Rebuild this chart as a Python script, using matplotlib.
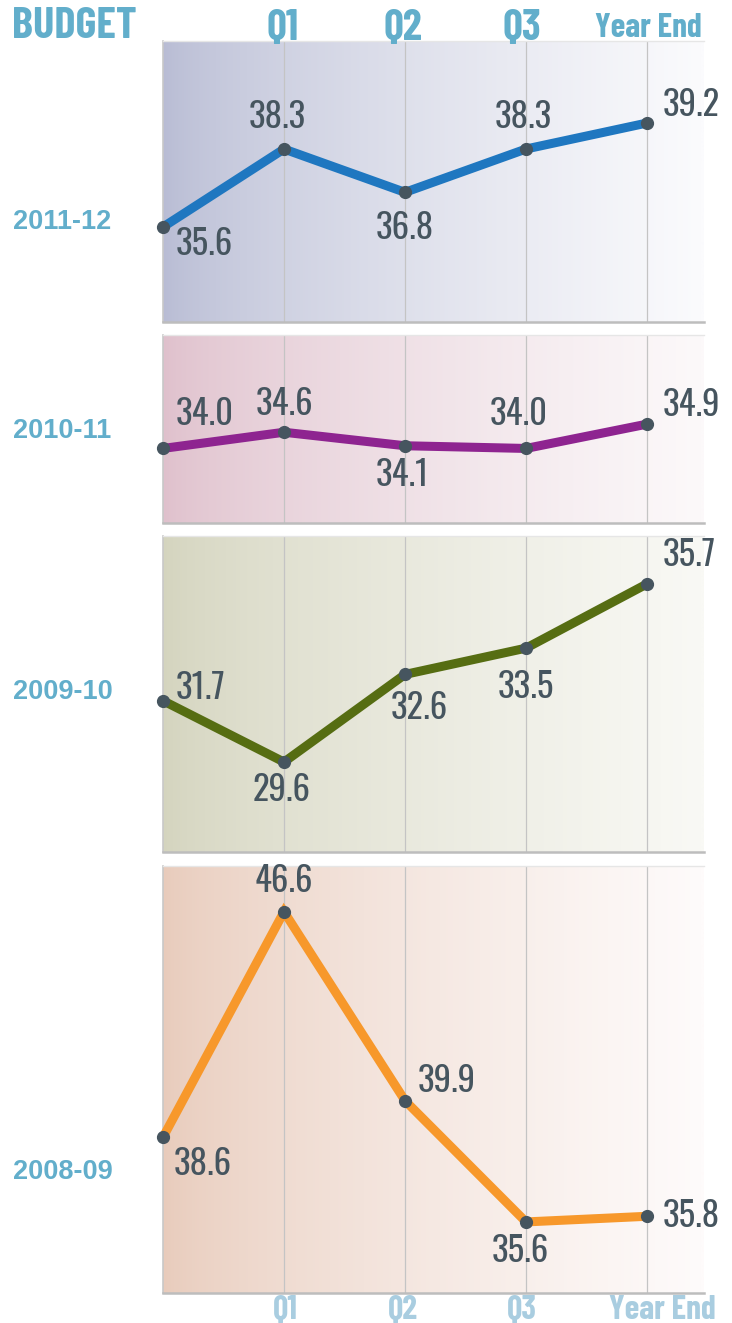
import numpy as np
import matplotlib
matplotlib.use("Agg")
import matplotlib.pyplot as plt
from matplotlib.colors import LinearSegmentedColormap

# data
periods = ["BUDGET", "Q1", "Q2", "Q3", "Year End"]
years = ["2011-12", "2010-11", "2009-10", "2008-09"]
values_2011 = [35.6, 38.3, 36.8, 38.3, 39.2]
values_2010 = [34.0, 34.6, 34.1, 34.0, 34.9]
values_2009 = [31.7, 29.6, 32.6, 33.5, 35.7]
values_2008 = [38.6, 46.6, 39.9, 35.6, 35.8]
series = [values_2011, values_2010, values_2009, values_2008]

# styling
line_colors = ["#1f77c0", "#8e2490", "#566d12", "#f7982b"]
bg_left = ["#b8bcd4", "#dfc0cc", "#d4d4be", "#e8cbbb"]
bg_right = ["#fbfbfd", "#fcf9fa", "#f9f9f5", "#fefbfb"]
# axes boxes in figure pixels (top, bottom) and row label heights
boxes = [(41, 322), (335, 523), (536, 852), (866, 1293)]
row_label_px = [222, 431, 692, 1172]
ylims = [(32.31, 42.04), (31.24, 38.2), (26.52, 37.34), (33.08, 48.22)]
# label offsets in points (dx, dy, ha)
offsets = [
    [(9, -12, "left"), (-5, 23, "center"), (0, -26, "center"), (-2, 23, "center"), (11, 13, "left")],
    [(9, 25, "left"), (0, 20, "center"), (-2, -21, "center"), (-5, 25, "center"), (11, 14, "left")],
    [(9, 9, "left"), (-2, -20, "center"), (10, -24, "center"), (0, -28, "center"), (11, 21, "left")],
    [(8, -19, "left"), (0, 22, "center"), (9, 14, "left"), (-4, -21, "center"), (11, 0, "left")],
]

W, H = 732, 1323
num_font = ["Oswald", "DejaVu Sans"]
head_font = ["Barlow Condensed", "Roboto Condensed", "DejaVu Sans"]
label_color = "#46555f"
head_color = "#62aecb"
foot_color = "#a9cde0"

fig = plt.figure(figsize=(W / 100, H / 100), dpi=100)
x = np.arange(len(periods))
left_px, right_px = 163, 704

for i, vals in enumerate(series):
    top, bot = boxes[i]
    ax = fig.add_axes([left_px / W, 1 - bot / H, (right_px - left_px) / W, (bot - top) / H])
    ax.set_xlim(0, (right_px - left_px) / 121)
    ax.set_ylim(*ylims[i])
    cmap = LinearSegmentedColormap.from_list("bg%d" % i, [bg_left[i], bg_right[i]])
    grad = (np.linspace(0, 1, 256) ** 0.7).reshape(1, -1)
    ax.imshow(grad, cmap=cmap, extent=[0, 1, 0, 1], transform=ax.transAxes,
              aspect="auto", zorder=0)
    for xv in x[1:]:
        ax.axvline(xv, color="#c4c4c4", lw=0.9, zorder=1)
    ax.plot(x, vals, color=line_colors[i], lw=6.5, solid_capstyle="butt",
            solid_joinstyle="miter", zorder=3, clip_on=False)
    ax.plot(x, vals, "o", color="#46555f", ms=8.5, zorder=4, clip_on=False)
    for xv, v, (dx, dy, ha) in zip(x, vals, offsets[i]):
        ax.annotate("%.1f" % v, (xv, v), xytext=(dx, dy), textcoords="offset points",
                    ha=ha, va="center", fontsize=25, color=label_color,
                    family=num_font, zorder=5, annotation_clip=False)
    ax.set_xticks([])
    ax.set_yticks([])
    ax.spines["right"].set_visible(False)
    ax.spines["top"].set_color("#e6e6e6")
    ax.spines["top"].set_linewidth(1.0)
    ax.spines["left"].set_color("#c8c8c8")
    ax.spines["left"].set_linewidth(1.2)
    ax.spines["bottom"].set_color("#bdbdbd")
    ax.spines["bottom"].set_linewidth(1.8)
    # row label
    fig.text(13 / W, 1 - row_label_px[i] / H, years[i], ha="left", va="center",
             fontsize=19.5, fontweight="bold", color=head_color,
             family=["Liberation Sans", "DejaVu Sans"])

# column headers
col_px = [283, 403, 522, 648]
foot_px = [285, 403, 522, 662]
fig.text(12 / W, 1 - 26 / H, periods[0], ha="left", va="center", fontsize=32,
         fontweight="bold", color=head_color, family=head_font)
for p, cx, fx in zip(periods[1:], col_px, foot_px):
    size = 31 if p.startswith("Q") else 24
    fig.text(cx / W, 1 - 28 / H, p, ha="center", va="center", fontsize=size,
             fontweight="bold", color=head_color, family=head_font)
    fig.text(fx / W, 1 - 1310 / H, p, ha="center", va="center", fontsize=24,
             fontweight="bold", color=foot_color, family=head_font)

fig.savefig("out.png", dpi=100)
